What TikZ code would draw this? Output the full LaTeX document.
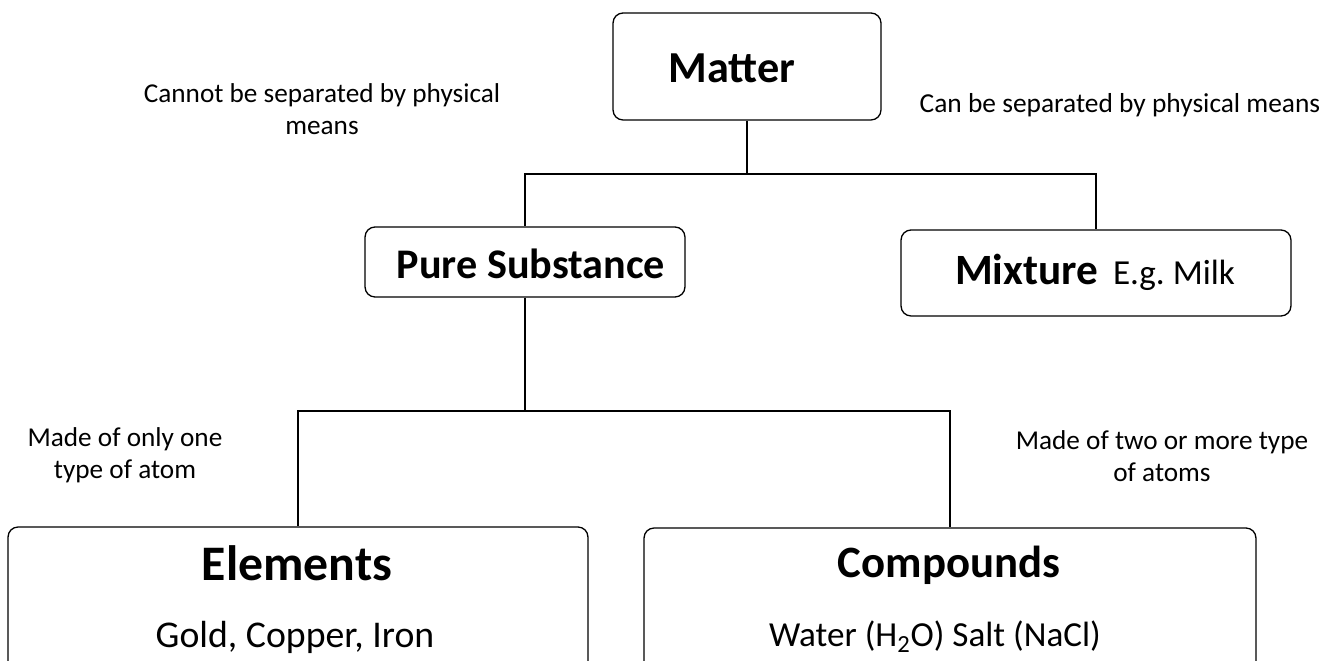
\documentclass[tikz,border=0pt]{standalone}
\usepackage{fontspec}
\setmainfont{Carlito}
\tikzset{
  box/.style={draw=black, line width=0.75pt, rounded corners=0.2cm, inner sep=0pt},
  txt/.style={inner sep=0pt, anchor=base},
  note/.style={inner sep=0pt, anchor=base, align=center, font=\fontsize{15.5}{18.7}\selectfont},
  link/.style={draw=black, line width=0.7pt}
}
\begin{document}
\begin{tikzpicture}[x=0.02cm, y=-0.02cm]
    \clip (0, 0) rectangle (1326, 661);

    % boxes
    \node [box, minimum width=5.36cm, minimum height=2.14cm] (matter) at (747, 66.5) {};
    \node [box, minimum width=6.4cm, minimum height=1.4cm] (pure) at (525, 262) {};
    \node [box, minimum width=7.8cm, minimum height=1.72cm] (mix) at (1096, 273) {};
    \node [box, minimum width=11.6cm, minimum height=2.9cm] (elem) at (298, 599.5) {};
    \node [box, minimum width=12.24cm, minimum height=2.88cm] (comp) at (950, 600) {};

    % box texts
    \node [txt, font=\bfseries\fontsize{25.2}{30}\selectfont] (mattertext) at (732, 83) {Matter};
    \node [txt, font=\bfseries\fontsize{24}{29}\selectfont] (puretext) at (531, 279) {Pure Substance};
    \node [txt] (mixtext) at (1095, 285)
      {{\bfseries\fontsize{24.6}{29}\selectfont Mixture}\hspace{0.3cm}{\fontsize{20}{24}\selectfont E.g.\ Milk}};
    \node [txt, font=\bfseries\fontsize{28.3}{34}\selectfont] (elemtitle) at (297, 581) {Elements};
    \node [txt, font=\fontsize{21.5}{26}\selectfont] (elemsub) at (295, 648) {Gold, Copper, Iron};
    \node [txt, font=\bfseries\fontsize{25.5}{31}\selectfont] (comptitle) at (949, 578) {Compounds};
    \node [txt, font=\fontsize{20}{24}\selectfont] (compsub) at (935, 647) {Water (H\textsubscript{2}O) Salt (NaCl)};

    \coordinate (mj) at (747, 174);
    \coordinate (pj) at (525, 411);

    \draw [link] (matter.south) -- (mj);
    \draw [link] (mj) -| (pure.north);
    \draw [link] (mj) -| (mix.north);
    \draw [link] (pure.south) -- (pj);
    \draw [link] (pj) -| (elem.north);
    \draw [link] (pj) -| (comp.north);

    \node [note] (cannot) at (322, 135) {Cannot be separated by physical\\means};
    \node [note, font=\fontsize{15.6}{18.7}\selectfont] (can) at (1120, 113) {Can be separated by physical means};
    \node [note] (onetype) at (125, 479) {Made of only one\\type of atom};
    \node [note] (twotype) at (1162, 482) {Made of two or more type\\of atoms};
\end{tikzpicture}
\end{document}
